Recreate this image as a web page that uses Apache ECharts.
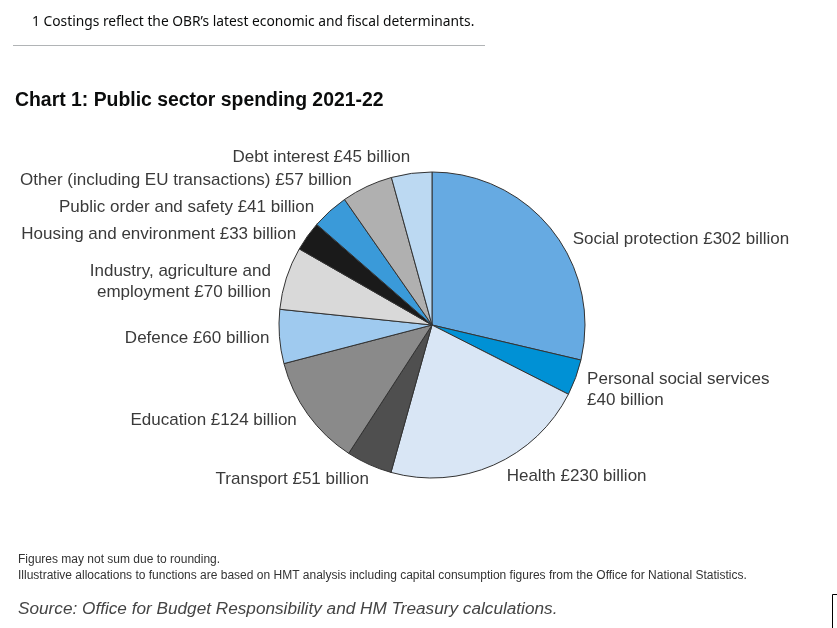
<!DOCTYPE html>
<html>
<head>
<meta charset="utf-8">
<script src="https://cdn.jsdelivr.net/npm/echarts@6/dist/echarts.min.js"></script>
<style>
  html, body { margin: 0; padding: 0; background: #fff; }
  #chart { width: 837px; height: 628px; }
</style>
</head>
<body>
<div id="chart"></div>
<script>
// spending by function, £ billion, clockwise from 12 o'clock
var categories = [
    'Social protection', 'Personal social services', 'Health', 'Transport',
    'Education', 'Defence', 'Industry, agriculture and employment',
    'Housing and environment', 'Public order and safety',
    'Other (including EU transactions)', 'Debt interest'
];
var values = [302, 40, 230, 51, 124, 60, 70, 33, 41, 57, 45];
var sliceColors = [
    '#66aae2', '#0091d5', '#d9e6f5', '#4f4f4f', '#8a8a8a', '#9fcaef',
    '#d9d9d9', '#1a1a1a', '#3a9ad9', '#b0b0b0', '#bcd9f2'
];
// small nudges so labels sit where the original artwork put them
var labelNudge = [
    [5, 16], [-6, 9], [1, 2], [12, 6], [5, 0], [8, 1],
    [2, 7], [5, 4], [-1, 4], [-3, 3], [8, -6]
];

(function () {
    var chartDom = document.getElementById('chart');
    var myChart = echarts.init(chartDom);
    var option;

    var pieData = categories.map(function (name, i) {
        return { name: name, value: values[i], itemStyle: { color: sliceColors[i] } };
    });
    // two labels wrap onto a second line
    pieData[1].label = { formatter: 'Personal social services\n£{c} billion' };
    pieData[6].label = { formatter: 'Industry, agriculture and\nemployment £{c} billion' };

    option = {
        backgroundColor: '#fff',
        animation: false,
        title: {
            text: 'Chart 1: Public sector spending 2021-22',
            left: 10,
            top: 86,
            textStyle: {
                fontFamily: 'Liberation Sans',
                fontSize: 19.4,
                fontWeight: 'bold',
                color: '#0b0c0c'
            }
        },
        graphic: [
            {
                type: 'text', left: 32, top: 15,
                style: {
                    text: '1 Costings reflect the OBR\u2019s latest economic and fiscal determinants.',
                    font: '13.8px "Noto Sans"', fill: '#0b0c0c'
                }
            },
            {
                type: 'line',
                shape: { x1: 13, y1: 45.5, x2: 485, y2: 45.5 },
                style: { stroke: '#b1b4b6', lineWidth: 1 }
            },
            {
                type: 'text', left: 18, top: 554,
                style: {
                    text: 'Figures may not sum due to rounding.',
                    font: '12px "Liberation Sans"', fill: '#333'
                }
            },
            {
                type: 'text', left: 18, top: 570,
                style: {
                    text: 'Illustrative allocations to functions are based on HMT analysis including capital consumption figures from the Office for National Statistics.',
                    font: '12px "Liberation Sans"', fill: '#333'
                }
            },
            {
                type: 'text', left: 18, top: 601,
                style: {
                    text: 'Source: Office for Budget Responsibility and HM Treasury calculations.',
                    font: 'italic 17.2px "Liberation Sans"', fill: '#444'
                }
            },
            {
                type: 'polyline',
                shape: { points: [[837, 594.5], [832.5, 594.5], [832.5, 628]] },
                style: { stroke: '#000', lineWidth: 1, fill: null }
            }
        ],
        series: [
            {
                type: 'pie',
                center: [432, 325],
                radius: 153,
                startAngle: 90,
                clockwise: true,
                avoidLabelOverlap: false,
                minShowLabelAngle: 0,
                data: pieData,
                itemStyle: {
                    borderColor: '#333',
                    borderWidth: 1
                },
                label: {
                    show: true,
                    position: 'outside',
                    formatter: '{b} £{c} billion',
                    fontFamily: 'Liberation Sans',
                    fontSize: 17,
                    lineHeight: 21,
                    color: '#3a3a3a',
                    distanceToLabelLine: 4
                },
                labelLine: {
                    show: false,
                    length: 10,
                    length2: 4
                },
                labelLayout: function (params) {
                    var n = labelNudge[params.dataIndex];
                    return { dx: n[0], dy: n[1], hideOverlap: false };
                },
                emphasis: { disabled: true }
            }
        ]
    };

    myChart.setOption(option);
    window.addEventListener('resize', function () {
        myChart.resize();
    });
})();
</script>
</body>
</html>
